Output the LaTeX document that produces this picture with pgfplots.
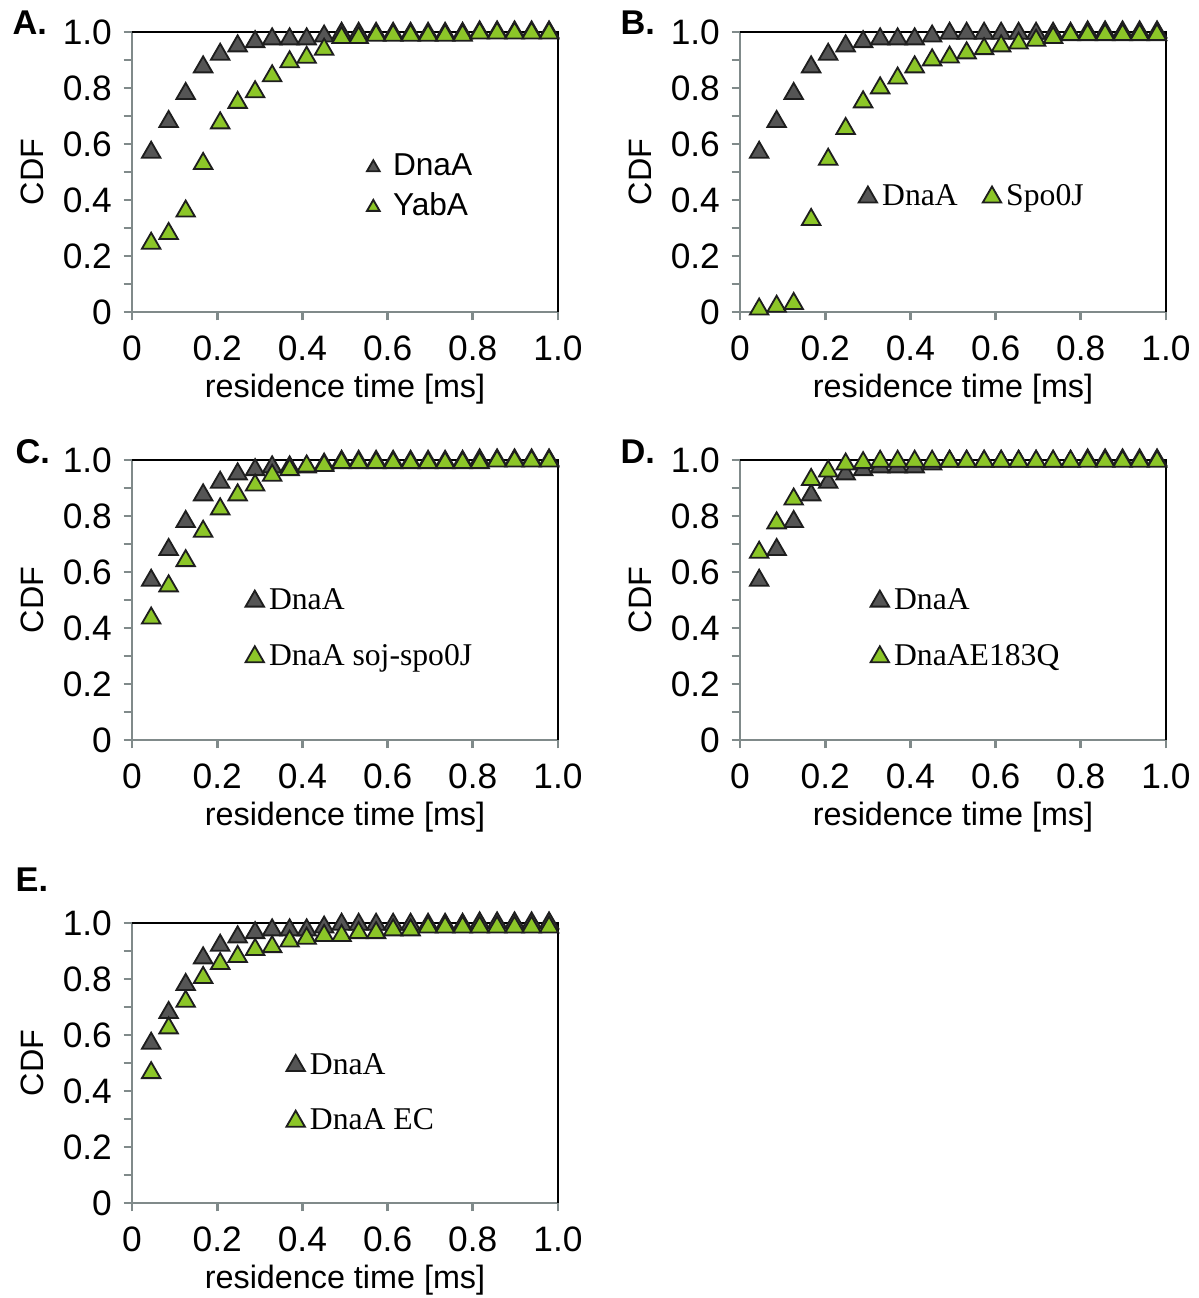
\documentclass[border=0pt]{standalone}
\usepackage{pgfplots}
\pgfplotsset{compat=1.18}
\usepackage{pgfplotstable}
\usepackage{fontspec}
\setmainfont{Liberation Sans}
\newfontfamily\tnr{Liberation Serif}
\definecolor{axgray}{RGB}{128,138,138}
\definecolor{mgray}{RGB}{85,85,85}
\definecolor{mgreen}{RGB}{140,198,40}
\definecolor{medge}{RGB}{30,30,30}

\pgfplotstableread{
x     dnaa   yaba   spo    soj    eq     ec
0.045 0.570  0.245  0.010  0.435  0.670  0.465
0.086 0.680  0.280  0.020  0.550  0.775  0.625
0.126 0.780  0.360  0.030  0.640  0.860  0.720
0.167 0.875  0.530  0.330  0.745  0.930  0.805
0.207 0.920  0.675  0.545  0.825  0.960  0.855
0.248 0.950  0.748  0.655  0.875  0.985  0.880
0.289 0.965  0.786  0.750  0.910  0.990  0.905
0.329 0.975  0.843  0.800  0.945  0.995  0.915
0.370 0.975  0.893  0.835  0.965  0.995  0.935
0.410 0.975  0.909  0.875  0.978  0.995  0.945
0.451 0.985  0.938  0.900  0.980  0.995  0.955
0.492 0.995  0.980  0.910  0.990  0.995  0.955
0.532 0.995  0.980  0.925  0.990  0.995  0.965
0.573 0.995  0.988  0.940  0.990  0.995  0.965
0.613 0.995  0.988  0.950  0.990  0.995  0.975
0.654 0.995  0.988  0.960  0.990  0.995  0.975
0.695 0.995  0.988  0.970  0.990  0.995  0.985
0.735 0.995  0.988  0.980  0.990  0.995  0.985
0.776 0.995  0.988  0.990  0.990  0.995  0.985
0.816 1.000  0.996  0.990  0.990  0.995  0.985
0.857 1.000  0.996  0.990  0.996  0.995  0.985
0.898 1.000  0.996  0.990  0.996  0.995  0.985
0.938 1.000  0.996  0.990  0.996  0.995  0.985
0.979 1.000  0.996  0.990  0.996  0.995  0.985
}\data

\pgfplotsset{
 cdfaxis/.style={
  scale only axis, width=127.8pt, height=84pt,
  xmin=0, xmax=1, ymin=0, ymax=1,
  axis x line*=bottom, axis y line*=left,
  axis line style={axgray, line width=0.8pt},
  tick style={axgray, line width=0.8pt},
  tick align=outside,
  major tick length=2.5pt, minor tick length=2.5pt,
  xtick={0,0.2,0.4,0.6,0.8,1}, xticklabels={0,0.2,0.4,0.6,0.8,1.0},
  ytick={0,0.2,0.4,0.6,0.8,1}, yticklabels={0,0.2,0.4,0.6,0.8,1.0},
  minor ytick={0.1,0.3,0.5,0.7,0.9},
  tick label style={font=\fontsize{10.6}{12}\selectfont},
  xticklabel style={yshift=-1pt},
  xlabel={residence time [ms]}, ylabel={CDF},
  label style={font=\fontsize{9.7}{11}\selectfont},
  xlabel style={at={(axis description cs:0.5,-0.274)}, anchor=center},
  ylabel style={at={(axis description cs:-0.235,0.5)}, anchor=center},
  clip=false,
  legend cell align=left,
  legend style={draw=none, fill=none, inner sep=0pt,
    nodes={inner sep=1.5pt, text height=0.72em, text depth=0.22em},
    font=\tnr\fontsize{9.5}{11}\selectfont, row sep=4.3pt},
  legend image code/.code={\draw[##1] plot coordinates {(0pt,0pt)};},
 },
 dn/.style={only marks, mark=triangle*, mark size=3.2pt, mark options={fill=mgray, draw=medge, line width=0.55pt}},
 gr/.style={only marks, mark=triangle*, mark size=3.2pt, mark options={fill=mgreen, draw=medge, line width=0.55pt}},
}
\newcommand{\topright}{\draw[black, line width=0.6pt] (rel axis cs:0,1) -- (rel axis cs:1,1) -- (rel axis cs:1,0);}

\begin{document}
\begin{tikzpicture}
\useasboundingbox (0,0) rectangle (359.7pt,389.4pt);
\node[anchor=base west, font=\bfseries\fontsize{10.3}{12}\selectfont, inner sep=0pt] at (3.6pt,379pt) {A.};
\node[anchor=base west, font=\bfseries\fontsize{10.3}{12}\selectfont, inner sep=0pt] at (186pt,379pt) {B.};
\node[anchor=base west, font=\bfseries\fontsize{10.3}{12}\selectfont, inner sep=0pt] at (4.5pt,250.5pt) {C.};
\node[anchor=base west, font=\bfseries\fontsize{10.3}{12}\selectfont, inner sep=0pt] at (186pt,250.5pt) {D.};
\node[anchor=base west, font=\bfseries\fontsize{10.3}{12}\selectfont, inner sep=0pt] at (4.5pt,121.8pt) {E.};

% A
\begin{axis}[cdfaxis, at={(39.6pt,295.8pt)}, anchor=south west,
  legend style={at={(axis cs:0.55,0.445)}, anchor=west,
    font=\fontsize{9.5}{11}\selectfont, row sep=-0.5pt,
    /tikz/every odd column/.append style={column sep=2.5pt}},
  legend image code/.code={\draw[#1,mark size=2.2pt] plot coordinates {(0pt,0pt)};}]
\topright
\addplot[dn] table[x=x,y=dnaa] {\data};
\addlegendentry{DnaA}
\addplot[gr] table[x=x,y=yaba] {\data};
\addlegendentry{YabA}
\end{axis}

% B
\begin{axis}[cdfaxis, at={(222pt,295.8pt)}, anchor=south west,
  legend columns=2,
  legend style={at={(axis cs:0.277,0.41)}, anchor=west,
    /tikz/every even column/.append style={column sep=6pt}},
  legend image code/.code={\draw[#1] plot coordinates {(0pt,0pt)};}]
\topright
\addplot[dn] table[x=x,y=dnaa] {\data};
\addlegendentry{DnaA}
\addplot[gr] table[x=x,y=spo] {\data};
\addlegendentry{Spo0J}
\end{axis}

% C
\begin{axis}[cdfaxis, at={(39.6pt,167.4pt)}, anchor=south west,
  legend style={at={(axis cs:0.265,0.396)}, anchor=west},
  legend image code/.code={\draw[#1] plot coordinates {(0pt,0pt)};}]
\topright
\addplot[dn] table[x=x,y=dnaa] {\data};
\addlegendentry{DnaA}
\addplot[gr] table[x=x,y=soj] {\data};
\addlegendentry{DnaA soj-spo0J}
\end{axis}

% D
\begin{axis}[cdfaxis, at={(222pt,167.4pt)}, anchor=south west,
  legend style={at={(axis cs:0.305,0.396)}, anchor=west},
  legend image code/.code={\draw[#1] plot coordinates {(0pt,0pt)};}]
\topright
\addplot[dn] table[x=x,y=dnaa] {\data};
\addlegendentry{DnaA}
\addplot[gr] table[x=x,y=eq] {\data};
\addlegendentry{DnaAE183Q}
\end{axis}

% E
\begin{axis}[cdfaxis, at={(39.6pt,28.5pt)}, anchor=south west,
  legend style={at={(axis cs:0.361,0.391)}, anchor=west},
  legend image code/.code={\draw[#1] plot coordinates {(0pt,0pt)};}]
\topright
\addplot[dn] table[x=x,y=dnaa] {\data};
\addlegendentry{DnaA}
\addplot[gr] table[x=x,y=ec] {\data};
\addlegendentry{DnaA EC}
\end{axis}
\end{tikzpicture}
\end{document}
